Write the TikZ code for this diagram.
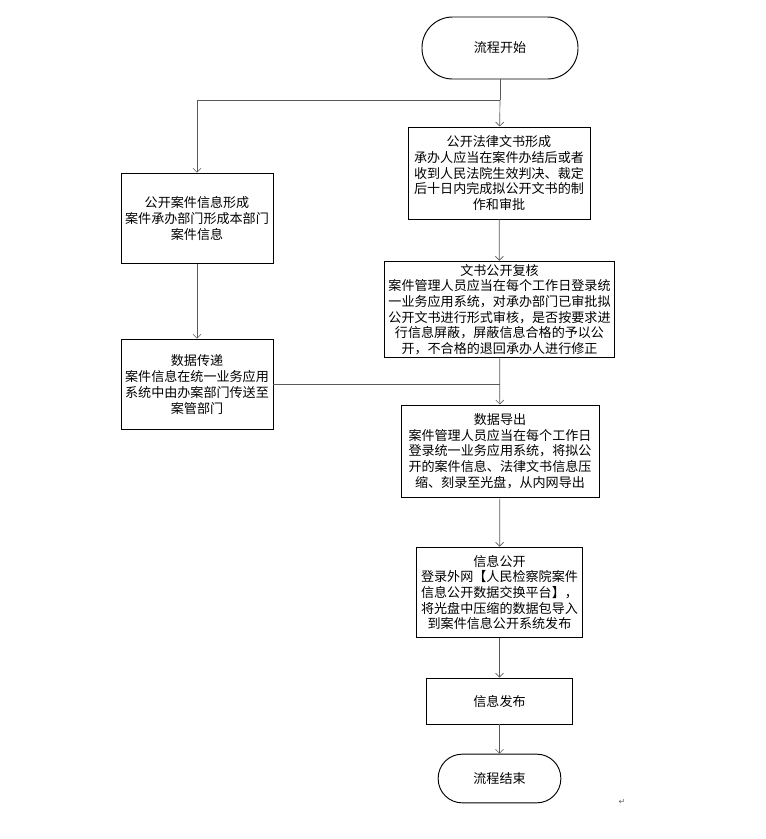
\documentclass[tikz,border=0pt]{standalone}
\usepackage{fontspec}
\newfontfamily\cjk{Noto Sans CJK SC}
\newfontfamily\symfont{DejaVu Sans}
\usetikzlibrary{arrows.meta}

\begin{document}
\begin{tikzpicture}[x=0.75pt, y=-0.75pt,
    every node/.style={font=\cjk\fontsize{9.8}{11.8}\selectfont, align=center, inner sep=1pt},
    box/.style={draw, line width=0.7pt},
    term/.style={draw, line width=0.7pt},
    arr/.style={draw=black!65, line width=0.5pt, -{Straight Barb[length=3pt,width=6pt]}},
    link/.style={draw=black!65, line width=0.5pt}]
    \useasboundingbox (0,0) rectangle (766,839);
    \node[term, rounded corners=23pt, minimum width=117pt, minimum height=46.5pt] (start) at (500,48) {流程开始};
    \coordinate (split) at (500,100);
    \node[box, minimum width=136.5pt, minimum height=69pt] (doc) at (499,173) {公开法律文书形成\\承办人应当在案件办结后或者\\收到人民法院生效判决、裁定\\后十日内完成拟公开文书的制\\作和审批};
    \node[box, minimum width=114pt, minimum height=68pt] (info) at (197,218.5) {公开案件信息形成\\案件承办部门形成本部门\\案件信息};
    \node[box, minimum width=173pt, minimum height=72.5pt] (check) at (499.5,309.5) {文书公开复核\\案件管理人员应当在每个工作日登录统\\一业务应用系统，对承办部门已审批拟\\公开文书进行形式审核，是否按要求进\\行信息屏蔽，屏蔽信息合格的予以公\\开，不合格的退回承办人进行修正};
    \node[box, minimum width=114pt, minimum height=68pt] (pass) at (197,384.5) {数据传递\\案件信息在统一业务应用\\系统中由办案部门传送至\\案管部门};
    \node[box, minimum width=148.5pt, minimum height=69pt] (export) at (500,451) {数据导出\\案件管理人员应当在每个工作日\\登录统一业务应用系统，将拟公\\开的案件信息、法律文书信息压\\缩、刻录至光盘，从内网导出};
    \node[box, minimum width=125pt, minimum height=68pt] (open) at (499.5,592.5) {信息公开\\登录外网【人民检察院案件\\信息公开数据交换平台】，\\将光盘中压缩的数据包导入\\到案件信息公开系统发布};
    \node[box, minimum width=110pt, minimum height=34.5pt] (publish) at (499.5,701) {信息发布};
    \node[term, rounded corners=18pt, minimum width=92pt, minimum height=36.5pt] (end) at (499.5,778.5) {流程结束};
    \node[font=\symfont\fontsize{6}{7}\selectfont, text=black!60] (mark) at (622,802) {↵};
    \draw[link] (start) -- (split);
    \draw[arr] (split) -- (doc);
    \draw[arr] (split) -| (info);
    \draw[link] (pass.east) -- (pass.east -| check.south);
    \foreach \a/\b in {info/pass, doc/check, check/export, export/open, open/publish, publish/end} {
        \draw[arr] (\a) -- (\b);
    }
\end{tikzpicture}
\end{document}
